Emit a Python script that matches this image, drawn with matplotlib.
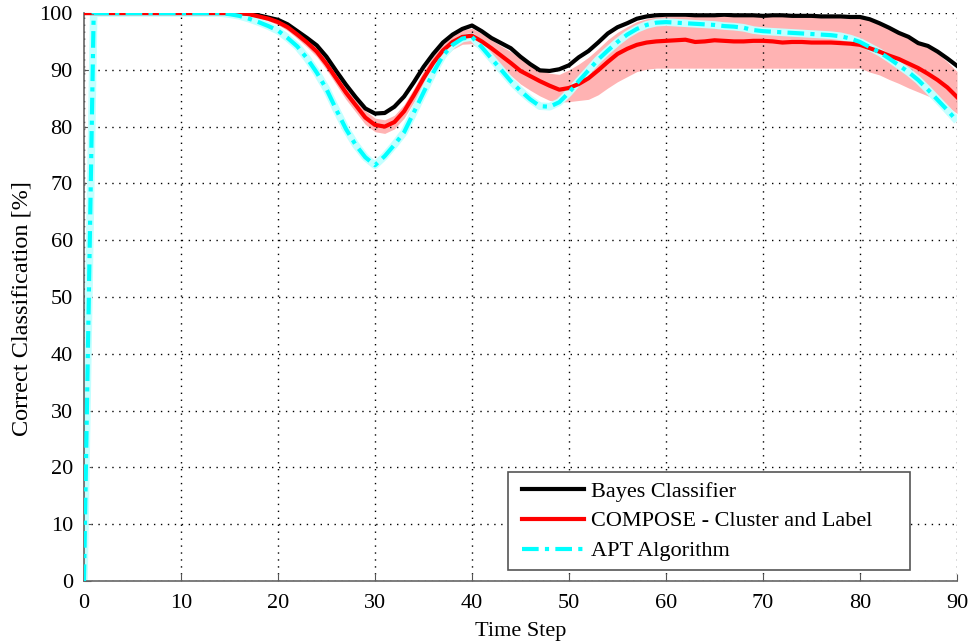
import matplotlib
matplotlib.use("Agg")
import matplotlib.pyplot as plt
from matplotlib.patches import Rectangle
import numpy as np

plt.rcParams['font.family'] = ['Liberation Serif', 'DejaVu Serif']

time_steps = list(range(0, 91))

bayes = [100]*17 + [
    99.9, 99.6, 99.2, 98.8, 98.0, 96.8, 95.6, 94.3, 92.3, 89.8,   # 17-26
    87.4, 85.2, 83.2, 82.3, 82.4, 83.5, 85.3, 87.8, 90.5, 92.8,   # 27-36
    94.8, 96.2, 97.2, 97.8, 96.8, 95.6, 94.7, 93.8, 92.3, 91.0,   # 37-46
    89.9, 89.8, 90.1, 90.8, 92.2, 93.3, 94.8, 96.4, 97.5, 98.2,   # 47-56
    99.0, 99.4, 99.6, 99.7, 99.7, 99.7, 99.6, 99.6, 99.6, 99.7,   # 57-66
    99.6, 99.6, 99.6, 99.5, 99.6, 99.6, 99.5, 99.5, 99.5, 99.4,   # 67-76
    99.4, 99.4, 99.3, 99.3, 98.9, 98.2, 97.4, 96.5, 95.8, 94.7,   # 77-86
    94.2, 93.2, 92.0, 90.7]                                          # 87-90

compose = [100]*17 + [
    99.8, 99.4, 99.0, 98.4, 97.5, 96.2, 94.8, 93.2, 91.0, 88.5,   # 17-26
    86.0, 83.8, 81.6, 80.3, 80.0, 80.8, 82.7, 85.5, 88.5, 91.2,   # 27-36
    93.4, 94.9, 95.8, 96.0, 95.0, 93.8, 92.5, 91.2, 89.8, 88.9,   # 37-46
    88.0, 87.2, 86.5, 86.8, 87.5, 88.5, 89.9, 91.4, 92.8, 93.7,   # 47-56
    94.4, 94.8, 95.0, 95.1, 95.2, 95.3, 94.9, 95.0, 95.2, 95.1,   # 57-66
    95.0, 95.0, 95.1, 95.1, 95.0, 94.8, 94.9, 94.9, 94.8, 94.8,   # 67-76
    94.8, 94.7, 94.6, 94.4, 93.8, 93.2, 92.5, 91.9, 91.1, 90.3,   # 77-86
    89.3, 88.2, 86.9, 85.2]                                          # 87-90

compose_lo = [100]*17 + [
    99.6, 99.1, 98.6, 97.9, 96.9, 95.5, 94.0, 92.3, 90.0, 87.4,   # 17-26
    84.8, 82.6, 80.4, 79.1, 78.8, 79.6, 81.5, 84.3, 87.2, 89.9,   # 27-36
    92.1, 93.6, 94.5, 94.6, 93.4, 92.0, 90.4, 89.0, 87.5, 86.4,   # 37-46
    85.4, 84.6, 84.3, 84.4, 84.6, 84.8, 85.6, 86.8, 87.9, 88.8,   # 47-56
    89.7, 90.1, 90.3, 90.3, 90.3, 90.3, 90.3, 90.3, 90.3, 90.3,   # 57-66
    90.3, 90.3, 90.3, 90.3, 90.3, 90.3, 90.3, 90.3, 90.3, 90.3,   # 67-76
    90.3, 90.3, 90.3, 90.3, 89.6, 89.1, 88.3, 87.6, 86.8, 86.1,   # 77-86
    85.4, 84.7, 83.6, 82.3]                                          # 87-90

compose_hi = [100]*17 + [
    99.95, 99.8, 99.4, 98.9, 98.1, 96.9, 95.6, 94.1, 92.0, 89.6,  # 17-26
    87.2, 85.0, 82.8, 81.5, 81.2, 82.0, 83.9, 86.7, 89.8, 92.5,   # 27-36
    94.7, 96.2, 97.0, 97.3, 96.4, 95.3, 94.2, 93.2, 92.0, 91.1,   # 37-46
    90.0, 89.4, 89.2, 90.0, 91.0, 92.2, 93.7, 95.3, 96.6, 97.6,   # 47-56
    98.5, 99.0, 99.3, 99.5, 99.5, 99.5, 99.5, 99.5, 99.5, 99.5,   # 57-66
    99.5, 99.5, 99.5, 99.5, 99.5, 99.5, 99.5, 99.5, 99.5, 99.5,   # 67-76
    99.5, 99.5, 99.5, 99.5, 99.2, 98.5, 97.6, 96.6, 95.6, 94.8,   # 77-86
    93.9, 92.9, 91.4, 89.7]                                          # 87-90

apt = [0] + [100]*14 + [
    99.8, 99.5, 99.0, 98.4, 97.7, 96.9, 95.6, 94.1, 92.0, 89.5,   # 15-24
    86.6, 83.0, 79.6, 76.8, 74.6, 73.2, 74.8, 76.8, 79.0, 82.5,   # 25-34
    86.0, 89.5, 92.5, 94.4, 95.5, 95.8, 94.0, 92.0, 90.0, 88.0,   # 35-44
    86.3, 84.8, 83.6, 83.5, 84.3, 86.0, 88.0, 89.9, 91.8, 93.4,   # 45-54
    94.9, 96.2, 97.2, 97.9, 98.3, 98.4, 98.3, 98.2, 98.1, 98.0,   # 55-64
    97.9, 97.7, 97.6, 97.4, 97.0, 96.8, 96.7, 96.6, 96.5, 96.4,   # 65-74
    96.3, 96.2, 96.1, 95.9, 95.5, 94.9, 94.0, 93.1, 92.0, 90.8,   # 75-84
    89.6, 88.2, 86.5, 84.7, 82.9, 81.0]                             # 85-90

series_labels = ['Bayes Classifier', 'COMPOSE - Cluster and Label', 'APT Algorithm']
x_ticks = list(range(0, 91, 10))
y_ticks = list(range(0, 101, 10))

fig = plt.figure(figsize=(9.72, 6.44), dpi=100)
ax = fig.add_axes([0.0864, 0.0978, 0.8982, 0.882])

ax.fill_between(time_steps, compose_lo, compose_hi, color='#ffb3b3', linewidth=0, zorder=1)
ax.plot(time_steps, apt, color='#c4ffff', linewidth=5.5, solid_capstyle='butt', zorder=2)
ax.plot(time_steps, bayes, color='black', linewidth=3, label=series_labels[0], zorder=4)
ax.plot(time_steps, compose, color='red', linewidth=3, label=series_labels[1], zorder=5)
ax.plot(time_steps, apt, color='cyan', linewidth=3, linestyle=(0, (4, 1.5, 1, 1.5)),
        label=series_labels[2], zorder=6)

ax.set_xlim(0, 90)
ax.set_ylim(0, 100)
ax.set_xticks(x_ticks)
ax.set_yticks(y_ticks)
ax.tick_params(direction='in', labelsize=16, length=5, color='#555555')
ax.tick_params(axis='y', pad=8)
ax.tick_params(axis='x', pad=9)
ax.grid(True, linestyle=(0, (1, 4)), color='black', linewidth=1)
for s in ['top', 'right']:
    ax.spines[s].set_visible(False)
for s in ['left', 'bottom']:
    ax.spines[s].set_color('#666666')
    ax.spines[s].set_linewidth(1.2)

ax.set_xlabel('Time Step', fontsize=16, labelpad=7)
ax.set_ylabel('Correct Classification [%]', fontsize=17.5)
ax.yaxis.set_label_coords(-0.0584, 0.479)

# legend frame (MATLAB-style box with extra right padding)
frame = Rectangle((0.4857, 0.0194), 0.4605, 0.1725, transform=ax.transAxes,
                  facecolor='white', edgecolor='#555555', linewidth=1.2, zorder=9)
ax.add_patch(frame)
leg = ax.legend(loc='upper left', bbox_to_anchor=(0.5017, 0.176), fontsize=16,
                handlelength=2.8, handletextpad=0.3, frameon=False,
                borderpad=0, labelspacing=0.42, borderaxespad=0)
leg.set_zorder(10)

fig.savefig('out.png', dpi=100)
